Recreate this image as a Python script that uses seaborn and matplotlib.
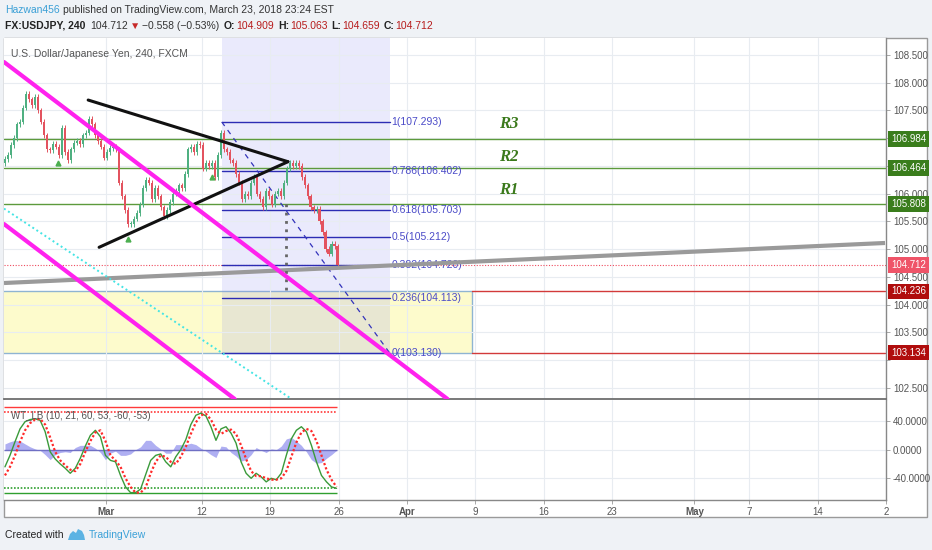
import numpy as np
import matplotlib
matplotlib.use("Agg")
import matplotlib.pyplot as plt
from matplotlib.patches import Rectangle, Polygon
import seaborn as sns

# trading-day index: 0 = Mon 12 Mar 2018, weekends skipped
tick_days = [-7, 0, 5, 10, 15, 20, 25, 30, 36, 40, 45, 50]
tick_labels = ["Mar", "12", "19", "26", "Apr", "9", "16", "23", "May", "7", "14", "2"]
month_labels = ["Mar", "Apr", "May"]
price_ticks = [102.5, 103.0, 103.5, 104.0, 104.5, 105.0, 105.5,
               106.0, 106.5, 107.0, 107.5, 108.0, 108.5]
osc_ticks = [-40, 0, 40]

# 4h candles, closes (open = previous close)
first_open = 106.55
closes = [106.62, 106.70, 106.88, 107.00, 107.25, 107.30, 107.55, 107.80, 107.70, 107.60,
          107.75, 107.50, 107.30, 107.05, 106.80, 106.78, 106.90, 106.85, 106.70, 107.18,
          106.75, 106.60, 106.80, 106.92, 106.95, 106.90, 107.05, 107.10, 107.35, 107.25,
          107.05, 106.95, 106.85, 106.65, 106.75, 106.82, 106.85, 106.80, 106.20, 105.95,
          105.70, 105.45, 105.45, 105.55, 105.65, 105.80, 106.10, 106.25, 106.20, 105.90,
          106.10, 105.95, 105.75, 105.60, 105.70, 105.85, 106.00, 106.05, 106.15, 106.10,
          106.35, 106.80, 106.85, 106.75, 106.90, 106.88, 106.45, 106.55, 106.50, 106.55,
          106.30, 106.70, 107.10, 106.80, 106.75, 106.60, 106.55, 106.35, 106.20, 105.90,
          106.00, 105.95, 106.20, 106.30, 106.00, 105.90, 105.75, 106.05, 105.95, 105.80,
          106.00, 106.05, 105.95, 106.20, 106.45, 106.55, 106.50, 106.55, 106.50, 106.30,
          106.15, 105.95, 105.75, 105.70, 105.72, 105.50, 105.30, 105.00, 104.92, 105.10,
          105.05, 104.71]
bar_first_day, bar_last_day = -14.38, 9.93

signal_days = [-10.51, -5.40, 0.73]
signal_prices = [106.55, 105.18, 106.30]

fib_ratios = ["1", "0.786", "0.618", "0.5", "0.382", "0.236", "0"]
fib_prices = [107.293, 106.402, 105.703, 105.212, 104.720, 104.113, 103.130]
fib_days = [1.46, 13.72]

res_names = ["R3", "R2", "R1"]
res_prices = [106.984, 106.464, 105.808]
res_label_prices = [107.256, 106.660, 106.065]
res_label_day = 22.4
support_prices = [104.236, 103.134]
last_price = 104.712

zone_days = [-16.0, 19.78]
zone_prices = [103.134, 104.236]

gray_trend = ([-14.45, 49.93], [104.388, 105.110])
tri_upper = ([-8.3, 6.3], [107.688, 106.576])
tri_lower = ([-7.5, 6.3], [105.032, 106.576])
chan_upper = ([-14.45, 17.96], [108.374, 102.296])
chan_lower = ([-14.45, 2.41], [105.452, 102.296])
chan_mid = ([-14.45, 6.57], [105.730, 102.296])
vert_dots = ([6.13, 6.13], [104.262, 105.885])

# WT_LB oscillator
wt1 = [-24, -8, 11, 29, 39, 42, 43, 41, 25, -3,
       -13, -20, -26, -33, -26, -12, 5, 20, 27, 18,
       -8, -15, -17, -36, -52, -60, -60, -55, -35, -15,
       -8, -6, -17, -24, -10, 0, 14, 35, 48, 51,
       47, 32, 13, 29, 32, 23, 9, -17, -33, -40,
       -33, -38, -45, -40, -42, -33, -8, 15, 27, 32,
       25, 6, -17, -36, -45, -52, -54]
wt2 = [-36, -24, -8, 11, 27, 37, 42, 43, 35, 17,
       -3, -15, -22, -28, -30, -20, -3, 12, 24, 27,
       12, -8, -15, -24, -40, -52, -60, -60, -53, -33,
       -17, -8, -10, -17, -20, -10, 4, 22, 38, 48,
       50, 42, 28, 22, 26, 28, 22, 6, -13, -30,
       -37, -37, -40, -42, -42, -40, -30, -10, 10, 24,
       29, 26, 12, -8, -28, -42, -52]
wt_area = [8, 11, 13, 12, 8, 4, 1, -1, -7, -14,
           -7, -4, -3, -4, 3, 6, 6, 6, 2, -4,
           -14, -5, -2, -8, -8, -6, 0, 4, 13, 13,
           6, 1, -5, -5, 7, 7, 7, 9, 7, 2,
           -2, -7, -11, 5, 4, -4, -9, -16, -14, -7,
           3, -1, -4, 1, 0, 5, 15, 17, 12, 6,
           -3, -14, -19, -18, -12, -7, -1]
osc_first_day, osc_last_day = -14.38, 9.85
ob_levels = [60, 53]
os_levels = [-60, -53]

X_RANGE = (-14.45, 49.93)
Y_RANGE = (102.296, 108.807)
OSC_RANGE = (-70.3, 69.3)

sns.set_theme(style="white")
plt.rcParams['font.family'] = ['Liberation Sans', 'DejaVu Sans']

W, H = 932, 550


def fx(x):
    return x / W


def fy(y):
    return 1 - y / H


fig = plt.figure(figsize=(W / 100, H / 100), dpi=100, facecolor='#eff2f6')
fig.patches.append(Rectangle((fx(4), fy(517)), (927 - 4) / W, (517 - 38) / H,
                             transform=fig.transFigure, facecolor='white',
                             edgecolor='#9a9a9a', lw=1, zorder=-1))

ax = fig.add_axes([fx(4), fy(399), 882 / W, 361 / H])
osc = fig.add_axes([fx(4), fy(500), 882 / W, 100 / H], sharex=ax)

# ---------------- price pane ----------------
ax.set_xlim(*X_RANGE)
ax.set_ylim(*Y_RANGE)
ax.set_xticks(tick_days)
ax.set_yticks(price_ticks)
ax.grid(True, color='#e8ecf1', lw=0.8)
ax.set_axisbelow(True)

# zones
ax.add_patch(Rectangle((zone_days[0], zone_prices[0]), zone_days[1] - zone_days[0],
                       zone_prices[1] - zone_prices[0], facecolor='#fdfbcc',
                       edgecolor='#8fb4d2', lw=1, zorder=0.2))
ax.add_patch(Rectangle((fib_days[0], fib_prices[-1]), fib_days[1] - fib_days[0],
                       Y_RANGE[1] - fib_prices[-1], facecolor='#8e8ef0',
                       alpha=0.18, lw=0, zorder=0.3))

# horizontal levels
for p in res_prices:
    ax.axhline(p, color='#5c9a3c', lw=1, zorder=1.5)
for p in support_prices:
    ax.plot([zone_days[1], X_RANGE[1]], [p, p], color='#d23a3a', lw=1, zorder=1.5)
ax.axhline(last_price, color='#ee4b5e', lw=0.8, ls=(0, (1, 1.5)), zorder=1.5)

for name, p in zip(res_names, res_label_prices):
    ax.text(res_label_day, p, name, color='#3b7a1c', fontsize=12, style='italic',
            fontweight='bold', family=['Liberation Serif', 'DejaVu Serif'],
            ha='center', va='center')

# fibonacci retracement
for r, p in zip(fib_ratios, fib_prices):
    ax.plot(fib_days, [p, p], color='#2c2cb4', lw=1, zorder=2)
    ax.text(fib_days[1] + 0.15, p, f"{r}({p:.3f})", color='#4a4ac8', fontsize=7.5,
            ha='left', va='center', zorder=2)
ax.plot(fib_days, [fib_prices[0], fib_prices[-1]], color='#3333bb', lw=0.9,
        ls=(0, (4, 4)), zorder=2)

# candles
closes_a = np.array(closes)
opens_a = np.r_[first_open, closes_a[:-1]]
bar_days = np.linspace(bar_first_day, bar_last_day, len(closes_a))
step = bar_days[1] - bar_days[0]
up = closes_a >= opens_a
cols = np.where(up, '#4fb081', '#e3535f')
hi = np.maximum(opens_a, closes_a) + 0.05
lo = np.minimum(opens_a, closes_a) - 0.05
ax.vlines(bar_days, lo, hi, colors=cols, lw=0.7, zorder=3)
ax.bar(bar_days, np.maximum(np.abs(closes_a - opens_a), 0.02),
       bottom=np.minimum(opens_a, closes_a), width=step * 0.78, color=cols,
       lw=0, zorder=3)
ax.plot(signal_days, signal_prices, ls='none', marker='^', ms=3.5,
        color='#4caf50', zorder=3)

# drawings
ax.plot(*gray_trend, color='#9a9a9a', lw=3, solid_capstyle='butt', zorder=4)
ax.plot(*tri_upper, color='#111111', lw=2.2, zorder=5)
ax.plot(*tri_lower, color='#111111', lw=2.2, zorder=5)
ax.plot(*chan_upper, color='#ff22ee', lw=3, zorder=5)
ax.plot(*chan_lower, color='#ff22ee', lw=3, zorder=5)
ax.plot(*chan_mid, color='#44e4e4', lw=1.4, ls=(0, (1, 1.5)), zorder=4)
ax.plot(*vert_dots, color='#666666', lw=2, ls=(0, (1, 2)), zorder=4)

# right axis: labels hidden where a value box covers them
box_vals = res_prices + [last_price] + support_prices
box_cols = ['#3a7d1c'] * 3 + ['#ef5468'] + ['#b00d0d'] * 2
ylabels = []
for v in price_ticks:
    covered = min(abs(v - b) for b in box_vals) < 0.15
    ylabels.append('' if covered else f"{v:.3f}")
ax.set_yticklabels(ylabels)
ax.yaxis.tick_right()
ax.tick_params(axis='y', right=True, left=False, labelright=True, labelleft=False,
               direction='out', length=3, width=0.6, colors='#9a9a9a',
               labelcolor='#555555', labelsize=7, pad=2)
ax.tick_params(axis='x', bottom=False, labelbottom=False)
for s in ['top', 'left']:
    ax.spines[s].set_visible(False)
ax.spines['right'].set_color('#888888')
ax.spines['right'].set_linewidth(1)
ax.spines['bottom'].set_color('#6e6e6e')
ax.spines['bottom'].set_linewidth(1.3)

for v, c in zip(box_vals, box_cols):
    ax.annotate(f"{v:.3f}", xy=(1, v), xycoords=('axes fraction', 'data'),
                xytext=(3.5, 0), textcoords='offset points', ha='left', va='center',
                color='white', fontsize=7, annotation_clip=False, zorder=10,
                bbox=dict(boxstyle='square,pad=0.3', fc=c, ec='none'))

# ---------------- oscillator pane ----------------
osc_days = np.linspace(osc_first_day, osc_last_day, len(wt1))
osc.set_ylim(*OSC_RANGE)
osc.set_yticks(osc_ticks)
osc.set_yticklabels([f"{v:.4f}" for v in osc_ticks])
osc.grid(True, color='#e8ecf1', lw=0.8)
osc.set_axisbelow(True)
osc.fill_between(osc_days, 0, wt_area, color='#9595ee', alpha=0.75, lw=0, zorder=1)
osc.hlines(0, X_RANGE[0], osc_last_day, color='#6f6fc4', lw=1, zorder=1.5)
osc.hlines(ob_levels[0], X_RANGE[0], osc_last_day, color='#ff3a3a', lw=1)
osc.hlines(ob_levels[1], X_RANGE[0], osc_last_day, color='#ff3a3a', lw=1.2,
           linestyles=(0, (1, 1)))
osc.hlines(os_levels[0], X_RANGE[0], osc_last_day, color='#2f9f2f', lw=1)
osc.hlines(os_levels[1], X_RANGE[0], osc_last_day, color='#2f9f2f', lw=1.2,
           linestyles=(0, (1, 1)))
sns.lineplot(x=osc_days, y=wt1, ax=osc, color='#3a9a3a', lw=1, zorder=3)
sns.lineplot(x=osc_days, y=wt2, ax=osc, color='#ff2a2a', lw=1.6,
             linestyle=(0, (1, 1)), zorder=3)
osc.set_xlim(*X_RANGE)
osc.set_xticks(tick_days)
osc.set_xticklabels(tick_labels)
for t in osc.get_xticklabels():
    if t.get_text() in month_labels:
        t.set_fontweight('bold')
        t.set_color('#444444')
osc.yaxis.tick_right()
osc.tick_params(axis='y', right=True, left=False, labelright=True, labelleft=False,
                direction='out', length=3, width=0.6, colors='#9a9a9a',
                labelcolor='#555555', labelsize=7, pad=2)
osc.tick_params(axis='x', bottom=True, direction='out', length=3, width=0.6,
                colors='#9a9a9a', labelcolor='#555555', labelsize=7, pad=2)
for s in ['top', 'left']:
    osc.spines[s].set_visible(False)
for s in ['right', 'bottom']:
    osc.spines[s].set_color('#888888')
    osc.spines[s].set_linewidth(1)
osc.set_xlabel('')
osc.set_ylabel('')

# ---------------- texts ----------------
fig.text(fx(11), fy(54), "U.S. Dollar/Japanese Yen, 240, FXCM", color='#555555',
         fontsize=7.5, va='center')
fig.text(fx(11), fy(416), "WT_LB (10, 21, 60, 53, -60, -53)", color='#555555',
         fontsize=7, va='center')


def chain(pieces, x0, y, size):
    # place text pieces one after another on a single line
    _, s, c, w = pieces[0]
    prev = fig.text(fx(x0), fy(y), s, color=c, fontweight=w, fontsize=size,
                    va='center')
    for gap, s, c, w in pieces[1:]:
        prev = fig.add_artist(plt.Annotation(
            s, xy=(1, 0.5), xycoords=prev, xytext=(gap, 0),
            textcoords='offset points', va='center', ha='left',
            color=c, fontweight=w, fontsize=size))
    return prev


chain([(0, "Hazwan456", '#3a9fd6', 'normal'),
       (2.5, "published on TradingView.com, March 23, 2018 23:24 EST", '#333333', 'normal')],
      5, 10, 7.5)
chain([(0, "FX:USDJPY, 240", '#222222', 'bold'),
       (3.5, "104.712", '#333333', 'normal'),
       (1.5, "\u25bc", '#c62828', 'normal'),
       (1.5, "\u22120.558 (\u22120.53%)", '#333333', 'normal'),
       (3, "O:", '#222222', 'bold'),
       (0.5, "104.909", '#b71c1c', 'normal'),
       (3, "H:", '#222222', 'bold'),
       (0.5, "105.063", '#b71c1c', 'normal'),
       (3, "L:", '#222222', 'bold'),
       (0.5, "104.659", '#b71c1c', 'normal'),
       (3, "C:", '#222222', 'bold'),
       (0.5, "104.712", '#b71c1c', 'normal')],
      5, 26, 7.5)

fig.text(fx(5), fy(535), "Created with", color='#222222', fontsize=7.5, va='center')
fig.text(fx(89), fy(535), "TradingView", color='#3ba1d8', fontsize=7.5, va='center')
logo = [(68, 540), (70, 534), (73, 531), (76, 533), (78, 529), (82, 531),
        (84, 535), (85, 540)]
fig.patches.append(Polygon([(fx(a), fy(b)) for a, b in logo], closed=True,
                           transform=fig.transFigure, facecolor='#5cb3e3',
                           edgecolor='none'))

fig.savefig('out.png', dpi=100, facecolor=fig.get_facecolor())
